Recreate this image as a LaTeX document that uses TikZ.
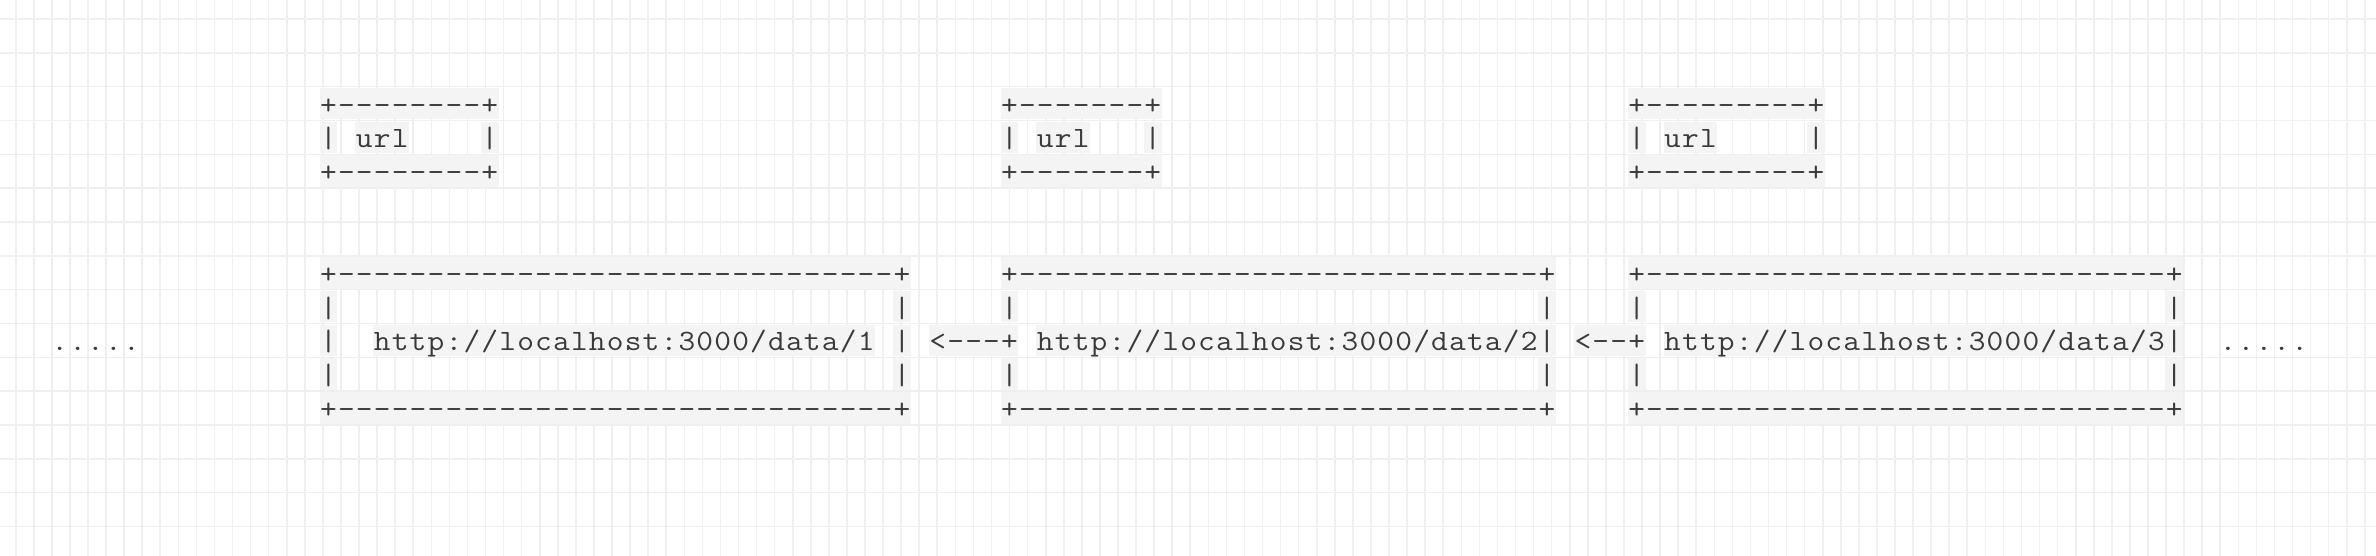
\documentclass[tikz,border=0pt]{standalone}
\usepackage{xcolor}
\usepackage{graphicx}
\definecolor{gridc}{HTML}{EFEFEF}
\definecolor{bgc}{HTML}{F4F4F4}
\definecolor{txtc}{HTML}{3A3A3A}
\newlength\pitch
\setlength\pitch{17.92pt}
\makeatletter
\def\cellrow#1{\cellrowA#1\@nil}
\def\cellrowA#1{\ifx#1\@nil\else\makebox[\pitch]{\scalebox{1.1}[1]{#1}}\expandafter\cellrowA\fi}
\makeatother
\newcommand\runat[4]{\node[run] (#1) at ({319.34+17.92*#2},{114.1+33.83*#3}) {\cellrow{#4}};}
\begin{document}
\begin{tikzpicture}[x=1pt,y=-1pt,
  gridline/.style={draw=gridc,line width=1.6pt},
  run/.style={anchor=base west,inner sep=0pt,fill=bgc,text height=26.4pt,text depth=5.4pt,
    font=\fontsize{29.5}{34}\selectfont\ttfamily,text=txtc},
  plaintxt/.style={anchor=base west,inner sep=0pt,text height=26.4pt,text depth=5.4pt,
    font=\fontsize{29.5}{34}\selectfont\ttfamily,text=txtc}]
\fill[white] (0,0) rectangle (2376,556);
\useasboundingbox (0,0) rectangle (2376,556);
% grid
\foreach \k in {0,...,130} \draw[gridline] ({15.7+18.07*\k},0) -- ({15.7+18.07*\k},556);
\foreach \k in {0,...,15} \draw[gridline] (0,{19+33.83*\k}) -- (2376,{19+33.83*\k});
% url boxes
\runat{uAtop}{0}{0}{+--------+}
\runat{uBtop}{38}{0}{+-------+}
\runat{uCtop}{73}{0}{+---------+}
\runat{uAl}{0}{1}{|}
\runat{uAt}{2}{1}{url}
\runat{uAr}{9}{1}{|}
\runat{uBl}{38}{1}{|}
\runat{uBt}{40}{1}{url}
\runat{uBr}{46}{1}{|}
\runat{uCl}{73}{1}{|}
\runat{uCt}{75}{1}{url}
\runat{uCr}{83}{1}{|}
\runat{uAbot}{0}{2}{+--------+}
\runat{uBbot}{38}{2}{+-------+}
\runat{uCbot}{73}{2}{+---------+}
% big boxes
\runat{bAtop}{0}{5}{+-------------------------------+}
\runat{bBtop}{38}{5}{+-----------------------------+}
\runat{bCtop}{73}{5}{+-----------------------------+}
\runat{bAl1}{0}{6}{|}
\runat{bAr1}{32}{6}{|}
\runat{bBl1}{38}{6}{|}
\runat{bBr1}{68}{6}{|}
\runat{bCl1}{73}{6}{|}
\runat{bCr1}{103}{6}{|}
\runat{bAl2}{0}{7}{|}
\runat{bAt}{3}{7}{http://localhost:3000/data/1}
\runat{bAr2}{32}{7}{|}
\runat{arrAB}{34}{7}{<---+}
\runat{bBt}{40}{7}{http://localhost:3000/data/2|}
\runat{arrBC}{70}{7}{<--+}
\runat{bCt}{75}{7}{http://localhost:3000/data/3|}
\runat{bAl3}{0}{8}{|}
\runat{bAr3}{32}{8}{|}
\runat{bBl3}{38}{8}{|}
\runat{bBr3}{68}{8}{|}
\runat{bCl3}{73}{8}{|}
\runat{bCr3}{103}{8}{|}
\runat{bAbot}{0}{9}{+-------------------------------+}
\runat{bBbot}{38}{9}{+-----------------------------+}
\runat{bCbot}{73}{9}{+-----------------------------+}
% ellipses
\node[plaintxt] (dotsL) at ({319.34+17.92*(-15)},{114.1+33.83*7}) {\cellrow{.....}};
\node[plaintxt] (dotsR) at ({319.34+17.92*106},{114.1+33.83*7}) {\cellrow{.....}};
\end{tikzpicture}
\end{document}
